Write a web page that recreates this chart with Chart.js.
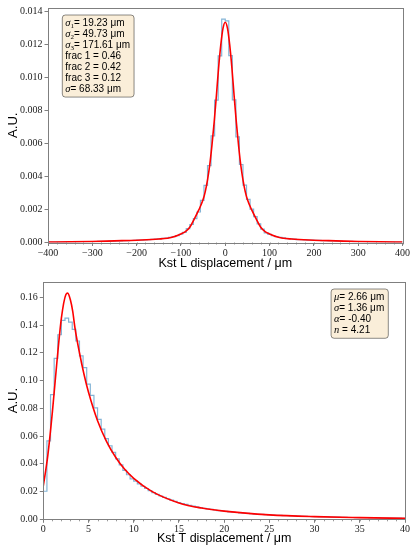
<!DOCTYPE html>
<html>
<head>
<meta charset="utf-8">
<script src="https://cdn.jsdelivr.net/npm/chart.js@4.4.0/dist/chart.umd.min.js"></script>
<style>
  html, body { margin: 0; padding: 0; background: #fff; }
  #wrap { position: relative; width: 411px; height: 548px; }
  canvas { position: absolute; left: 0; }
</style>
</head>
<body>
<div id="wrap">
  <canvas id="kstL" width="411" height="274" style="top:0"></canvas>
  <canvas id="kstT" width="411" height="274" style="top:274px"></canvas>
</div>
<script>
// longitudinal displacement, 8 um bins from -400
const lBinLow = -400;
const lBinWidth = 8;
const lCounts = [
  0.000020, 0.000022, 0.000024, 0.000026, 0.000028, 0.000031, 0.000034, 0.000037, 0.000040, 0.000044,
  0.000047, 0.000052, 0.000056, 0.000061, 0.000065, 0.000071, 0.000076, 0.000082, 0.000087, 0.000094,
  0.000100, 0.000106, 0.000115, 0.000120, 0.000130, 0.000140, 0.000150, 0.000160, 0.000170, 0.000190,
  0.000200, 0.000220, 0.000250, 0.000270, 0.000310, 0.000360, 0.000420, 0.000500, 0.000620, 0.000840,
  0.001090, 0.001450, 0.001850, 0.002550, 0.003460, 0.004660, 0.006470, 0.008630, 0.011320, 0.013540,
  0.013440, 0.011330, 0.008650, 0.006400, 0.004730, 0.003480, 0.002620, 0.002020, 0.001570, 0.001130,
  0.000810, 0.000580, 0.000490, 0.000410, 0.000350, 0.000310, 0.000280, 0.000240, 0.000220, 0.000210,
  0.000180, 0.000170, 0.000160, 0.000150, 0.000140, 0.000130, 0.000125, 0.000112, 0.000108, 0.000098,
  0.000092, 0.000089, 0.000080, 0.000077, 0.000069, 0.000066, 0.000059, 0.000057, 0.000051, 0.000048,
  0.000043, 0.000041, 0.000036, 0.000034, 0.000030, 0.000029, 0.000025, 0.000023, 0.000021, 0.000019
];
// triple gaussian fit
const lFitX = [-400, -350, -300, -250, -200, -150, -120, -100, -90, -80, -70, -60, -50, -45, -40, -35, -30, -25, -20, -15, -10, -5,
  0, 5, 10, 15, 20, 25, 30, 35, 40, 45, 50, 60, 70, 80, 90, 100, 120, 150, 200, 250, 300, 350, 400];
const lFitY = [0.00002, 0.000035, 0.00006, 0.0001, 0.00014, 0.00021, 0.00032, 0.00052, 0.00066, 0.00092, 0.00142, 0.00196, 0.0026,
  0.0031, 0.0038, 0.0047, 0.0059, 0.0073, 0.0089, 0.0106, 0.0120, 0.0130,
  0.01336,
  0.0130, 0.0120, 0.0106, 0.0089, 0.0073, 0.0059, 0.0047, 0.0038, 0.0031, 0.0026, 0.00196, 0.00142, 0.00092, 0.00066, 0.00052,
  0.00032, 0.00021, 0.00014, 0.0001, 0.00006, 0.000035, 0.00002];
const lTicksX = [-400, -300, -200, -100, 0, 100, 200, 300, 400];
const lTicksY = [0, 0.002, 0.004, 0.006, 0.008, 0.010, 0.012, 0.014];
const lBox = [
  [['m', 'σ'], ['s', '1'], ['t', '= 19.23 μm']],
  [['m', 'σ'], ['s', '2'], ['t', '= 49.73 μm']],
  [['m', 'σ'], ['s', '3'], ['t', '= 171.61 μm']],
  [['t', 'frac 1 = 0.46']],
  [['t', 'frac 2 = 0.42']],
  [['t', 'frac 3 = 0.12']],
  [['m', 'σ'], ['t', '= 68.33 μm']]
];

// transverse displacement, 0.4 um bins from 0
const tBinLow = 0;
const tBinWidth = 0.4;
const tCounts = [
  0.0202, 0.0565, 0.0898, 0.1159, 0.1330, 0.1433, 0.1449, 0.1421, 0.1369, 0.1285,
  0.1178, 0.1093, 0.0974, 0.0893, 0.0803, 0.0720, 0.0650, 0.0582, 0.0530, 0.0482,
  0.0435, 0.0392, 0.0352, 0.0321, 0.0292, 0.0275, 0.0255, 0.0238, 0.0222, 0.0206,
  0.0192, 0.0180, 0.0168, 0.0158, 0.0148, 0.0138, 0.0129, 0.0121, 0.0114, 0.0107,
  0.0101, 0.0095, 0.0089, 0.0084, 0.0079, 0.0075, 0.0071, 0.0067, 0.0063, 0.0060,
  0.0057, 0.0054, 0.0051, 0.0049, 0.0046, 0.0044, 0.0042, 0.0040, 0.0038, 0.0036,
  0.0035, 0.0033, 0.0032, 0.0030, 0.0029, 0.0028, 0.0027, 0.0026, 0.0025, 0.0024,
  0.0023, 0.0022, 0.0021, 0.0020, 0.0019, 0.0019, 0.0018, 0.0017, 0.0017, 0.0016,
  0.0015, 0.0015, 0.0014, 0.0014, 0.0013, 0.0013, 0.0012, 0.0012, 0.0011, 0.0011,
  0.0010, 0.0010, 0.0010, 0.0009, 0.0009, 0.0009, 0.0008, 0.0008, 0.0008, 0.0007
];
// crystal ball fit
const tFitX = [0, 0.5, 1, 1.5, 2, 2.5, 2.7, 3, 3.25, 3.5, 4, 4.5, 5, 6, 7, 8, 9, 10, 12, 15, 17.5, 20, 25, 30, 35, 40];
const tFitY = [0.024, 0.046, 0.077, 0.113, 0.145, 0.162, 0.163, 0.158, 0.150, 0.138, 0.120, 0.1045, 0.0915, 0.071, 0.056,
  0.0447, 0.036, 0.0295, 0.0201, 0.0118, 0.0081, 0.0059, 0.0032, 0.0019, 0.0012, 0.0007];
const tTicksX = [0, 5, 10, 15, 20, 25, 30, 35, 40];
const tTicksY = [0, 0.02, 0.04, 0.06, 0.08, 0.10, 0.12, 0.14, 0.16];
const tBox = [
  [['m', 'μ'], ['t', '= 2.66 μm']],
  [['m', 'σ'], ['t', '= 1.36 μm']],
  [['m', 'α'], ['t', '= -0.40']],
  [['m', 'n'], ['t', ' = 4.21']]
];

const FRAME = '#7f7f7f';
const FONTS = {
  m: 'italic 10.5px "Liberation Serif"',
  s: '7px "Liberation Serif"',
  t: '10px "Liberation Sans"'
};

// step outline like a matplotlib 'step' histogram
function histPoints(low, width, counts) {
  const pts = [{x: low, y: 0}];
  counts.forEach((c, i) => pts.push({x: low + i * width, y: c}));
  pts.push({x: low + counts.length * width, y: 0});
  return pts;
}

function measure(ctx, line) {
  let w = 0;
  line.forEach(([k, s]) => { ctx.font = FONTS[k]; w += ctx.measureText(s).width; });
  return w;
}

// frame, minor ticks and the parameter box
const decor = {
  id: 'decor',
  afterDraw(chart, args, o) {
    const {ctx, chartArea: a, scales: {x}} = chart;
    ctx.save();
    ctx.strokeStyle = FRAME;
    ctx.lineWidth = 0.8;
    ctx.beginPath();
    for (let v = x.min; v <= x.max + 1e-9; v += o.minor) {
      const px = Math.round(x.getPixelForValue(v)) + 0.5;
      ctx.moveTo(px, a.bottom);
      ctx.lineTo(px, a.bottom + 2);
    }
    ctx.stroke();
    ctx.lineWidth = 1;
    ctx.strokeRect(Math.round(a.left) + 0.5, Math.round(a.top) + 0.5,
      Math.round(a.right - a.left), Math.round(a.bottom - a.top));

    // parameter box
    const lh = 10.93;
    const w = Math.max(...o.lines.map(l => measure(ctx, l))) + 7;
    const h = (o.lines.length - 1) * lh + 16.5;
    const bx = o.right ? o.x - w : o.x;
    ctx.beginPath();
    ctx.roundRect(bx, o.y, w, h, 3);
    ctx.fillStyle = 'rgba(245,222,179,0.5)';
    ctx.fill();
    ctx.strokeStyle = 'rgba(0,0,0,0.45)';
    ctx.stroke();
    ctx.fillStyle = '#000';
    ctx.textBaseline = 'middle';
    o.lines.forEach((line, i) => {
      let tx = bx + 3;
      const ty = o.y + 8.5 + i * lh;
      line.forEach(([k, s]) => {
        ctx.font = FONTS[k];
        ctx.fillText(s, tx, k === 's' ? ty + 2.5 : ty);
        tx += ctx.measureText(s).width;
      });
    });
    ctx.restore();
  }
};

function makeChart(id, c) {
  return new Chart(document.getElementById(id), {
    type: 'line',
    data: {
      datasets: [
        {
          data: c.fitX.map((v, i) => ({x: v, y: c.fitY[i]})),
          borderColor: '#ff0000',
          borderWidth: 1.6,
          pointRadius: 0,
          cubicInterpolationMode: 'monotone',
          order: 0
        },
        {
          data: histPoints(c.binLow, c.binWidth, c.counts),
          borderColor: 'rgba(31,119,180,0.55)',
          borderWidth: 1.2,
          pointRadius: 0,
          stepped: true,
          order: 1
        }
      ]
    },
    options: {
      responsive: false,
      animation: false,
      devicePixelRatio: 1,
      layout: {autoPadding: false, padding: c.pad},
      plugins: {
        legend: {display: false},
        tooltip: {enabled: false},
        decor: {lines: c.box, x: c.boxX, y: c.boxY, right: c.boxRight, minor: c.minor}
      },
      scales: {
        x: {
          type: 'linear',
          min: c.xTicks[0],
          max: c.xTicks[c.xTicks.length - 1],
          afterBuildTicks: s => { s.ticks = c.xTicks.map(v => ({value: v})); },
          afterFit: s => { s.height = c.xHeight; },
          border: {display: false},
          grid: {drawOnChartArea: false, tickLength: 3.5, color: FRAME},
          ticks: {
            font: {family: 'Liberation Serif', size: 10},
            color: '#222',
            padding: 1,
            maxRotation: 0,
            autoSkip: false,
            callback: v => String(v).replace('-', '\u2212')
          },
          title: {
            display: true,
            text: c.xTitle,
            font: {family: 'Liberation Sans', size: 12.5},
            color: '#000',
            padding: {top: 0, bottom: c.titlePad}
          }
        },
        y: {
          min: 0,
          max: c.yMax,
          afterBuildTicks: s => { s.ticks = c.yTicks.map(v => ({value: v})); },
          afterFit: s => { s.width = c.yWidth; },
          border: {display: false},
          grid: {drawOnChartArea: false, tickLength: 3.5, color: FRAME},
          ticks: {
            font: {family: 'Liberation Serif', size: 10},
            color: '#222',
            padding: 2,
            callback: v => v.toFixed(c.digits)
          },
          title: {
            display: true,
            text: 'A.U.',
            font: {family: 'Liberation Sans', size: 13},
            color: '#000',
            padding: {top: 6, bottom: 0}
          }
        }
      }
    },
    plugins: [decor]
  });
}

makeChart('kstL', {
  binLow: lBinLow, binWidth: lBinWidth, counts: lCounts,
  fitX: lFitX, fitY: lFitY,
  xTicks: lTicksX, yTicks: lTicksY, yMax: 0.01422, digits: 3, minor: 20,
  xTitle: 'Kst L displacement / μm',
  pad: {left: 0, right: 8, top: 7, bottom: 0},
  yWidth: 48, xHeight: 31.5, titlePad: 3,
  box: lBox, boxX: 62.3, boxY: 15, boxRight: false
});

makeChart('kstT', {
  binLow: tBinLow, binWidth: tBinWidth, counts: tCounts,
  fitX: tFitX, fitY: tFitY,
  xTicks: tTicksX, yTicks: tTicksY, yMax: 0.171, digits: 2, minor: 1,
  xTitle: 'Kst T displacement / μm',
  pad: {left: 0, right: 5.7, top: 6, bottom: 0},
  yWidth: 43.3, xHeight: 28.7, titlePad: 1.5,
  box: tBox, boxX: 388.3, boxY: 15, boxRight: true
});
</script>
</body>
</html>
